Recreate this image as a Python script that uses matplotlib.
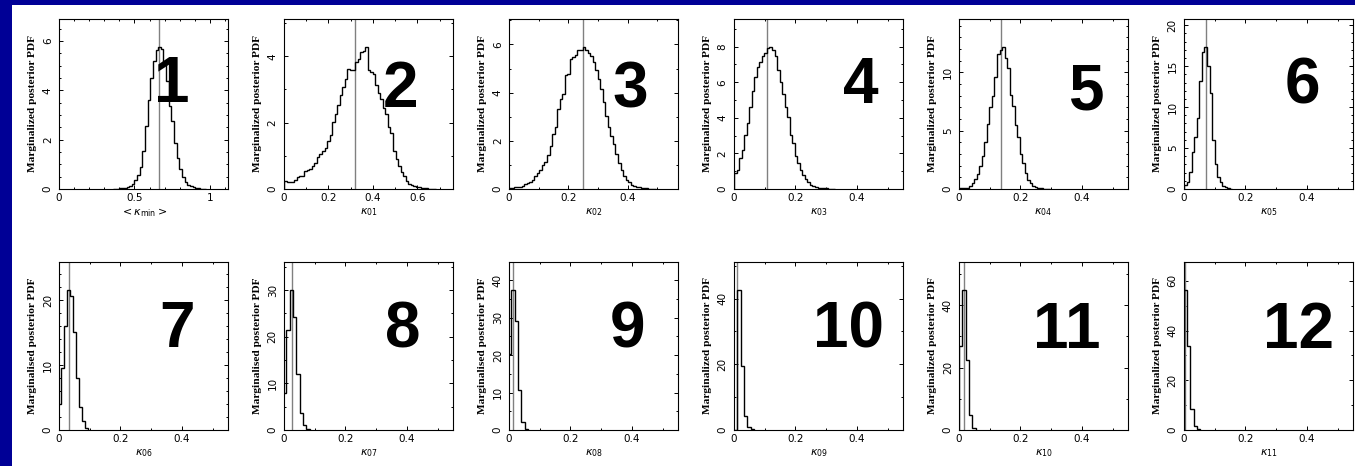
import numpy as np
import matplotlib
matplotlib.use('Agg')
import matplotlib.pyplot as plt
from matplotlib.ticker import MultipleLocator, FuncFormatter
from matplotlib.patches import Rectangle

# ─── DATA ─────────────────────────────────────────────────────────────────────
PANEL_NUMBERS = ['1', '2', '3', '4', '5', '6', '7', '8', '9', '10', '11', '12']
X_LABELS = [r'$<\kappa_{\rm min}>$', r'$\kappa_{01}$', r'$\kappa_{02}$',
            r'$\kappa_{03}$', r'$\kappa_{04}$', r'$\kappa_{05}$', r'$\kappa_{06}$',
            r'$\kappa_{07}$', r'$\kappa_{08}$', r'$\kappa_{09}$', r'$\kappa_{10}$',
            r'$\kappa_{11}$']
Y_LABELS = (['Marginalized posterior PDF'] * 6 + ['Marginalised posterior PDF'] * 3
            + ['Marginalized posterior PDF'] * 3)

# best-fit value (grey vertical line) per panel
TRUE_VALUES = [0.665, 0.32, 0.25, 0.107, 0.136, 0.071,
               0.032, 0.026, 0.013, 0.0108, 0.016, 0.003]

# histogram bins: first edge, bin width, heights
BIN_START = [0.36, 0.0, 0.0, 0.0, 0.0, 0.0, -0.0045, -0.003, -0.003, 0.0, 0.0, 0.0]
BIN_WIDTH = [0.0175, 0.0114, 0.00855, 0.00824, 0.00824, 0.0083,
             0.0098, 0.0108, 0.0108, 0.0108, 0.0108, 0.0105]

H01 = [0.0, 0.02, 0.03, 0.04, 0.05, 0.07, 0.12, 0.2, 0.35, 0.55, 0.9, 1.55, 2.55,
       3.6, 4.5, 5.2, 5.65, 5.75, 5.7, 5.15, 4.4, 3.35, 2.75, 1.85, 1.25, 0.8, 0.5,
       0.3, 0.17, 0.12, 0.08, 0.05, 0.03, 0.02, 0.01]
H02 = [0.23, 0.22, 0.2, 0.22, 0.28, 0.36, 0.38, 0.4, 0.55, 0.57, 0.6, 0.68, 0.78,
       0.95, 1.05, 1.15, 1.25, 1.44, 1.62, 2.02, 2.25, 2.52, 2.83, 3.06, 3.31, 3.62,
       3.58, 3.58, 3.84, 3.92, 4.14, 4.17, 4.27, 3.6, 3.53, 3.46, 3.13, 2.9, 2.72,
       2.45, 2.25, 1.87, 1.7, 1.14, 0.89, 0.69, 0.5, 0.38, 0.23, 0.16, 0.11, 0.09,
       0.06, 0.05, 0.03, 0.02, 0.02, 0.01, 0.01, 0.01]
H03 = [0.05, 0.06, 0.08, 0.08, 0.1, 0.14, 0.2, 0.24, 0.28, 0.39, 0.52, 0.66, 0.8,
       0.98, 1.12, 1.42, 1.77, 2.29, 2.59, 3.31, 3.72, 3.94, 4.73, 4.77, 5.38, 5.46,
       5.56, 5.77, 5.79, 5.88, 5.77, 5.63, 5.52, 5.28, 4.94, 4.55, 4.14, 3.63, 3.01,
       2.59, 2.21, 1.88, 1.46, 1.08, 0.8, 0.55, 0.39, 0.28, 0.18, 0.13, 0.1, 0.07,
       0.05, 0.04, 0.03, 0.02, 0.01, 0.01]
H04 = [0.9, 1.08, 1.74, 2.2, 3.05, 3.7, 4.63, 5.5, 6.3, 6.88, 7.16, 7.48, 7.63, 7.9,
       7.96, 7.81, 7.48, 6.69, 6.04, 5.33, 4.63, 4.07, 3.05, 2.58, 1.87, 1.46, 1.08,
       0.8, 0.56, 0.37, 0.24, 0.15, 0.09, 0.06, 0.05, 0.03, 0.03, 0.02, 0.02, 0.01]
H05 = [0.05, 0.06, 0.08, 0.12, 0.3, 0.55, 0.9, 1.3, 2.0, 2.8, 4.0, 5.6, 7.0, 8.0,
       9.6, 11.6, 11.9, 12.15, 11.2, 10.4, 8.1, 7.1, 5.5, 4.5, 3.0, 2.2, 1.4, 0.8,
       0.5, 0.3, 0.17, 0.1, 0.07, 0.04, 0.02, 0.01]
H06 = [0.5, 0.8, 2.1, 4.5, 6.4, 8.7, 13.2, 16.7, 17.3, 15.0, 11.7, 6.0, 3.1, 1.5,
       0.8, 0.4, 0.2, 0.1, 0.05]
H07 = [4.0, 9.6, 16.0, 21.6, 20.6, 15.1, 8.1, 3.5, 1.4, 0.25]
H08 = [7.9, 21.5, 30.0, 24.3, 11.9, 3.7, 1.06, 0.2]
H09 = [20.2, 37.4, 29.1, 10.6, 2.2, 0.3]
H10 = [0.0, 42.6, 19.4, 4.2, 0.8, 0.2]
H11 = [27.0, 44.8, 22.4, 4.8, 0.5]
H12 = [56.3, 33.6, 8.3, 1.6, 0.4]
HEIGHTS = [H01, H02, H03, H04, H05, H06, H07, H08, H09, H10, H11, H12]

# axis settings
X_MAX = [1.12, 0.76, 0.57] + [0.55] * 9
X_MAJOR = [0.5] + [0.2] * 11
Y_MAJOR = [2, 2, 2, 2, 5, 5, 10, 10, 10, 20, 20, 20]
Y_MINOR = [0.5, 1, 1, 1, 1, 1, 2, 5, 5, 10, 10, 10]

# big panel number placement (axes fraction, baseline)
NUM_X = [0.67, 0.69, 0.72, 0.75, 0.75, 0.70, 0.70, 0.70, 0.70, 0.68, 0.64, 0.675]
NUM_Y = [0.512, 0.482, 0.482, 0.505, 0.465, 0.505, 0.494, 0.494, 0.494, 0.494, 0.488, 0.488]

# ─── LAYOUT ───────────────────────────────────────────────────────────────────
W, H = 1355, 466
AX_LEFT = [59, 284, 509, 734, 959, 1184]
AX_W = 169
ROWS = [(19, 189), (262, 430)]   # (top, bottom) in pixels

fig = plt.figure(figsize=(W / 100, H / 100), dpi=100, facecolor='#000096')
fig.patches.append(Rectangle((12 / W, 0), 1, (H - 5) / H, transform=fig.transFigure,
                             facecolor='white', edgecolor='none', zorder=-5))

fmt = FuncFormatter(lambda v, p: f'{v:g}')

for i in range(12):
    row, col = divmod(i, 6)
    top, bot = ROWS[row]
    ax = fig.add_axes([AX_LEFT[col] / W, (H - bot) / H, AX_W / W, (bot - top) / H])

    vals = np.array(HEIGHTS[i])
    edges = BIN_START[i] + BIN_WIDTH[i] * np.arange(len(vals) + 1)
    ax.stairs(vals, edges, color='black', linewidth=1.0, zorder=3)
    ax.axvline(TRUE_VALUES[i], color='#808080', linewidth=1.0, zorder=2)

    ax.set_xlim(0, X_MAX[i])
    ax.set_ylim(0, 1.2 * vals.max())

    ax.xaxis.set_major_locator(MultipleLocator(X_MAJOR[i]))
    ax.xaxis.set_minor_locator(MultipleLocator(0.1))
    ax.yaxis.set_major_locator(MultipleLocator(Y_MAJOR[i]))
    ax.yaxis.set_minor_locator(MultipleLocator(Y_MINOR[i]))
    ax.xaxis.set_major_formatter(fmt)
    ax.yaxis.set_major_formatter(fmt)

    ax.tick_params(which='both', direction='in', top=True, right=True,
                   labelsize=7.5, width=0.7)
    ax.tick_params(which='major', length=3.2)
    ax.tick_params(which='minor', length=1.6)
    ax.tick_params(axis='x', pad=3.2)
    ax.tick_params(axis='y', pad=4.5)
    for lab in ax.get_yticklabels():
        lab.set_rotation(90)
        lab.set_va('center')
    for s in ax.spines.values():
        s.set_linewidth(0.8)

    ax.set_xlabel(X_LABELS[i], fontsize=8)
    ax.xaxis.set_label_coords(0.5, -0.10)
    ax.set_ylabel(Y_LABELS[i], fontsize=8.2, family='Liberation Serif',
                  fontweight='bold')
    ax.yaxis.set_label_coords(-0.13, 0.5)

    ax.text(NUM_X[i], NUM_Y[i], PANEL_NUMBERS[i], transform=ax.transAxes,
            ha='center', va='baseline', fontsize=46, fontweight='bold',
            family='Liberation Sans', color='black', zorder=4)

fig.savefig('out.png', dpi=100, facecolor=fig.get_facecolor())
